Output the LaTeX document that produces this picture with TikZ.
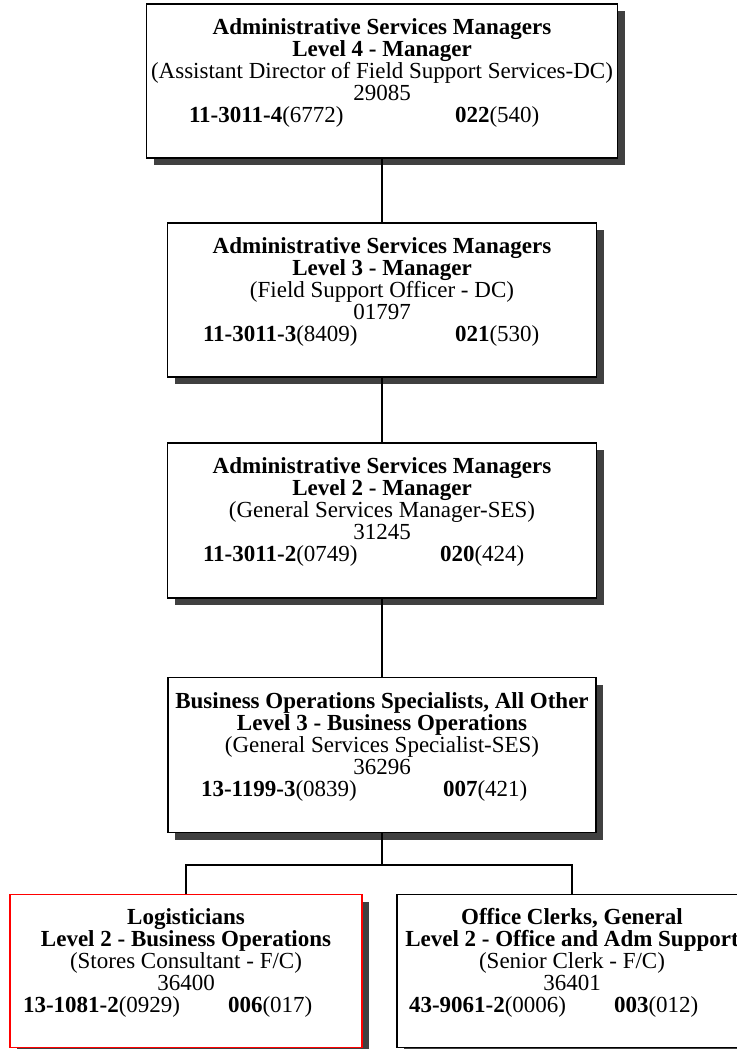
\documentclass[tikz,border=0pt]{standalone}
\usepackage{fontspec}
\setmainfont{Liberation Serif}
\usepackage{tikz}
\usetikzlibrary{shadows}

\newcommand{\socline}[6]{\makebox[0pt][l]{\hspace{#1}\makebox[#2][l]{\textbf{#3}(#4)}\textbf{#5}(#6)}\rule[-21pt]{0pt}{21pt}}

\begin{document}
\begin{tikzpicture}[x=1pt, y=-1pt,
    jobbox/.style={draw=black, line width=1.8pt, fill=white, rectangle, inner sep=0pt,
        align=center, font=\fontsize{23}{22}\selectfont,
        drop shadow={shadow xshift=7pt, shadow yshift=-7pt, fill=black!75, opacity=1}},
    link/.style={draw=black, line width=1.8pt}]
    \useasboundingbox (0,0) rectangle (736,1049);

    \node[jobbox, minimum width=471pt, minimum height=154pt] (mgr4) at (382, 81)
        {\textbf{Administrative Services Managers}\\\textbf{Level 4 - Manager}\\(Assistant Director of Field Support Services-DC)\\29085\\\socline{-193pt}{266pt}{11-3011-4}{6772}{022}{540}};
    \node[jobbox, minimum width=429pt, minimum height=154pt] (mgr3) at (382, 300)
        {\textbf{Administrative Services Managers}\\\textbf{Level 3 - Manager}\\(Field Support Officer - DC)\\01797\\\socline{-179pt}{252pt}{11-3011-3}{8409}{021}{530}};
    \node[jobbox, minimum width=429pt, minimum height=155pt] (mgr2) at (382, 520.5)
        {\textbf{Administrative Services Managers}\\\textbf{Level 2 - Manager}\\(General Services Manager-SES)\\31245\\\socline{-179pt}{237pt}{11-3011-2}{0749}{020}{424}};
    \node[jobbox, minimum width=428pt, minimum height=155pt] (bops3) at (382, 755)
        {\textbf{Business Operations Specialists, All Other}\\\textbf{Level 3 - Business Operations}\\(General Services Specialist-SES)\\36296\\\socline{-181pt}{242pt}{13-1199-3}{0839}{007}{421}};
    \node[jobbox, draw=red, minimum width=352pt, minimum height=153pt] (logist) at (186, 971)
        {\textbf{Logisticians}\\\textbf{Level 2 - Business Operations}\\(Stores Consultant - F/C)\\36400\\\socline{-163pt}{205pt}{13-1081-2}{0929}{006}{017}};
    \node[jobbox, minimum width=350pt, minimum height=153pt] (clerk) at (572, 971)
        {\textbf{Office Clerks, General}\\\textbf{Level 2 - Office and Adm Support}\\(Senior Clerk - F/C)\\36401\\\socline{-163pt}{205pt}{43-9061-2}{0006}{003}{012}};

    \coordinate (fork) at (382, 865);

    \draw[link] (mgr4.south) -- (mgr3.north);
    \draw[link] (mgr3.south) -- (mgr2.north);
    \draw[link] (mgr2.south) -- (bops3.north);
    \draw[link] (bops3.south) -- (fork);
    \draw[link] (logist.north) |- (fork) -| (clerk.north);
\end{tikzpicture}
\end{document}
